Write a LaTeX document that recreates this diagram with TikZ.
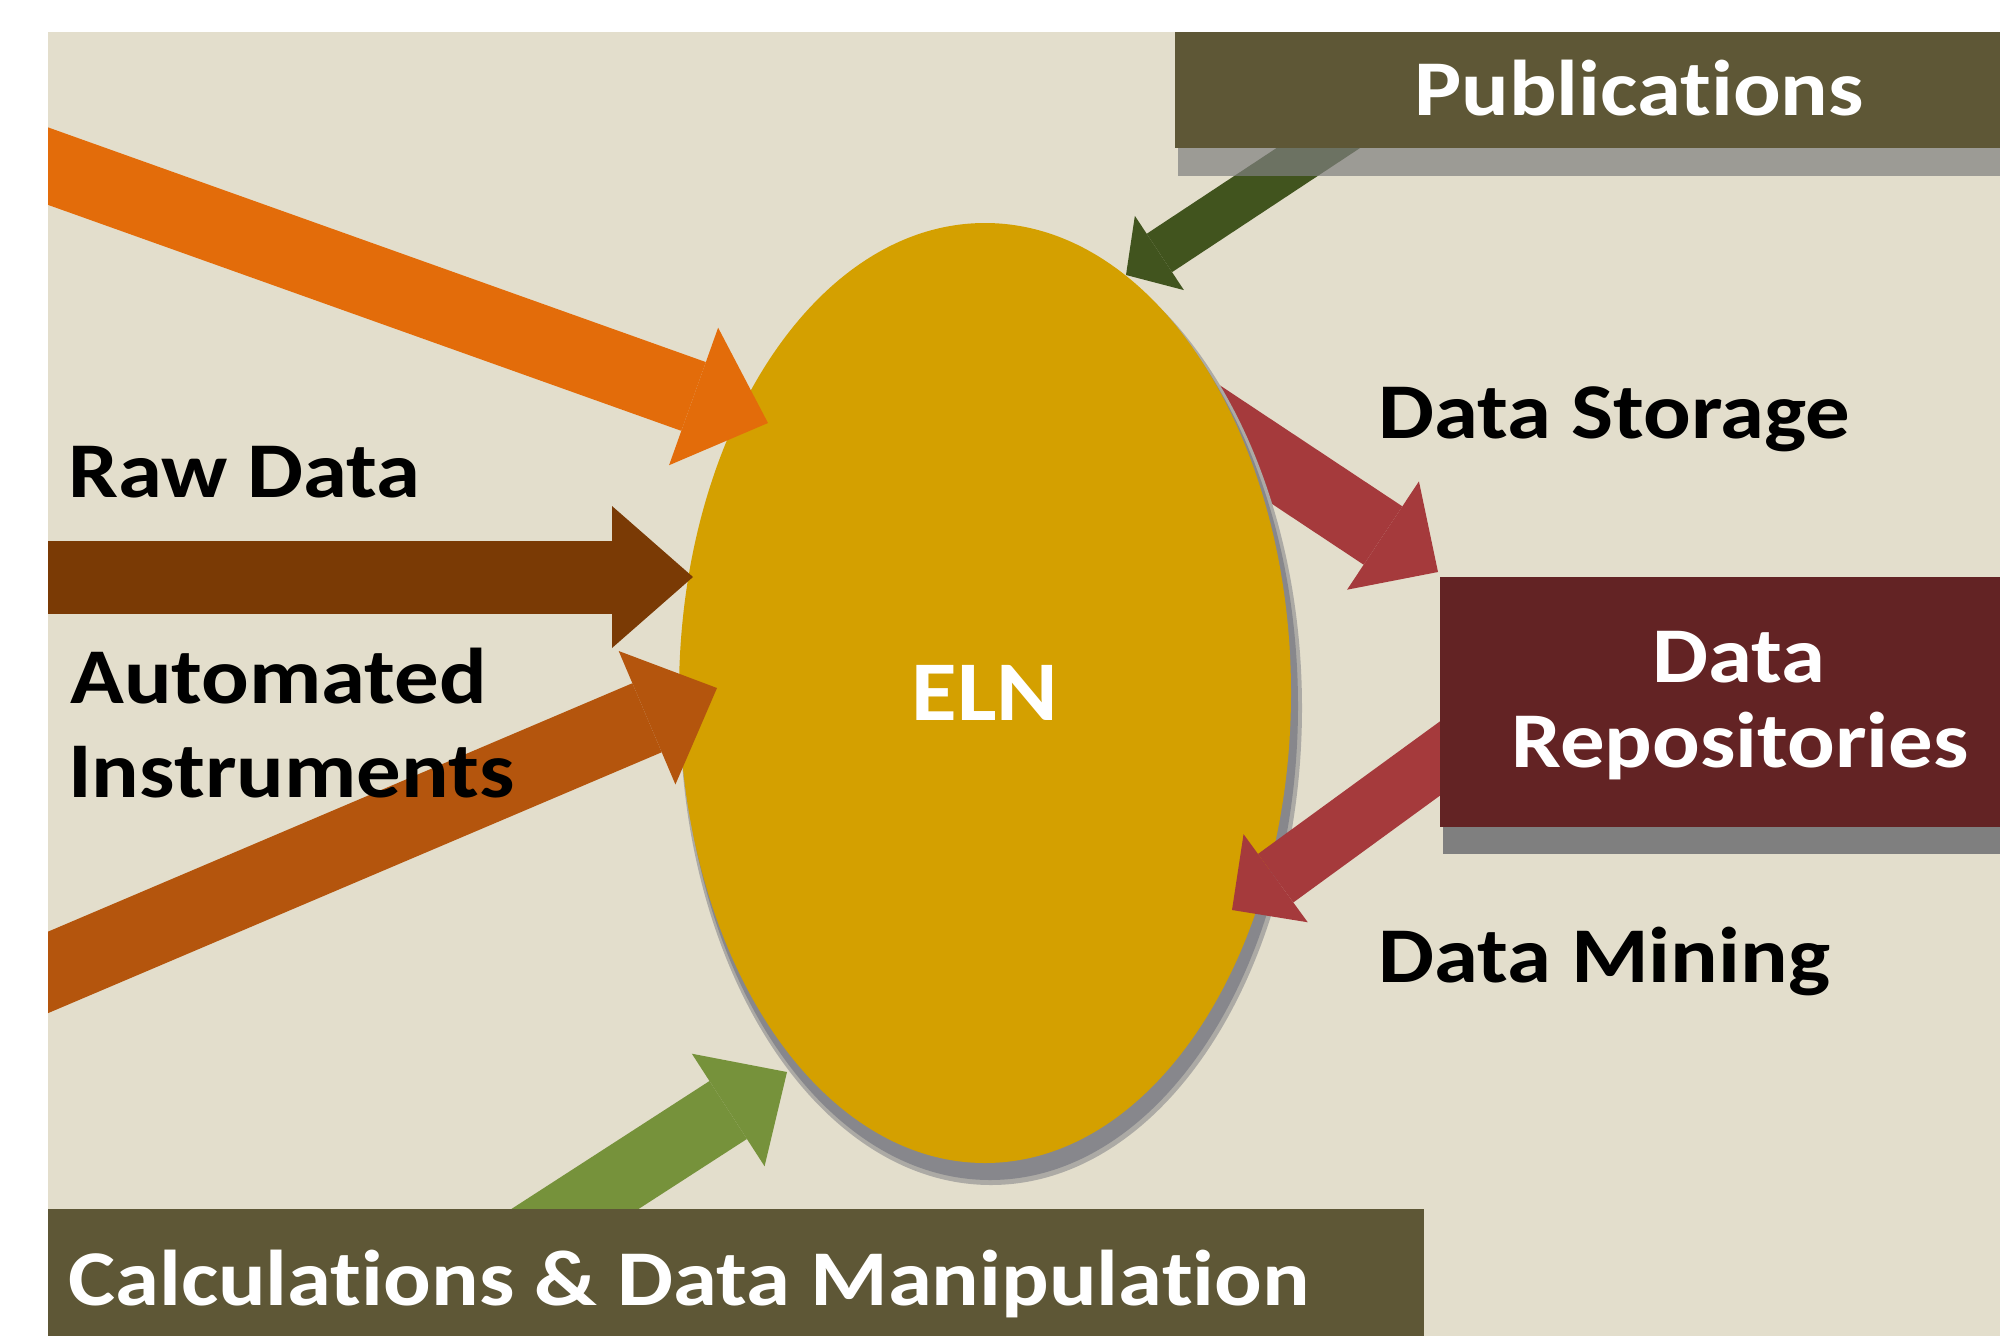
\documentclass[tikz,border=0pt]{standalone}
\usepackage{fontspec}
\setmainfont{Carlito}[Ligatures={NoCommon}]
\usetikzlibrary{arrows.meta,shapes.geometric}
\definecolor{bgC}{RGB}{227,222,204}
\definecolor{oliveC}{RGB}{94,87,54}
\definecolor{goldC}{RGB}{212,160,0}
\definecolor{orangeC}{RGB}{227,108,10}
\definecolor{brownC}{RGB}{122,58,5}
\definecolor{dorangeC}{RGB}{180,85,13}
\definecolor{greenC}{RGB}{118,146,59}
\definecolor{dgreenC}{RGB}{65,84,30}
\definecolor{redC}{RGB}{165,58,60}
\definecolor{maroonC}{RGB}{99,35,36}
\definecolor{shadowC}{RGB}{127,127,127}
\definecolor{eshadowC}{RGB}{135,135,140}
\begin{document}
\begin{tikzpicture}[x=1pt,y=-1pt,
  lbl/.style={font=\fontsize{79}{94}\selectfont\bfseries, inner sep=0pt, xscale=1.125},
  fat/.style n args={4}{draw=#1, line width=#2, -{Triangle[width=#3,length=#4,line width=0pt]}},
  boxnode/.style={rectangle, inner sep=0pt, anchor=north west}
]
\useasboundingbox (0,0) rectangle (2000,1336);
\fill[white] (0,0) rectangle (2000,1336);
\fill[bgC] (48,32) rectangle (2000,1336);

\coordinate (o1) at (0,149);     \coordinate (o2) at (768,423);
\coordinate (b1) at (0,577);     \coordinate (b2) at (693,577);
\coordinate (d1) at (0,992.8);   \coordinate (d2) at (717,688);
\coordinate (g1) at (496,1260);  \coordinate (g2) at (787,1072);
\coordinate (p1) at (1391,100);  \coordinate (p2) at (1126,275);
\coordinate (r1) at (1150,381);  \coordinate (r1t) at (1438,572);
\coordinate (m1) at (1470,736.6); \coordinate (m2) at (1232,910);

\begin{scope}
\clip (48,32) rectangle (2000,1336);
% storage arrow (behind the ellipse)
\draw[fat={redC}{70pt}{130pt}{66pt}] (r1) -- (r1t);
% ellipse and its shadow
\fill[eshadowC!60!bgC] (991,708) ellipse [x radius=311pt, y radius=477pt];
\fill[eshadowC] (990,706) ellipse [x radius=308pt, y radius=474pt];
\node[ellipse, fill=goldC, minimum width=612pt, minimum height=940pt, inner sep=0pt,
      text=white, font=\fontsize{85}{100}\selectfont\bfseries] (eln) at (985,693) {\scalebox{1.1}[1]{ELN}};
% incoming arrows
\draw[fat={orangeC}{73pt}{146pt}{79pt}] (o1) -- (o2);
\draw[fat={brownC}{73pt}{142pt}{81pt}] (b1) -- (b2);
\draw[fat={dorangeC}{75pt}{145pt}{76pt}] (d1) -- (d2);
\draw[fat={greenC}{69pt}{134pt}{70pt}] (g1) -- (g2);
\draw[fat={redC}{60pt}{109pt}{54pt}] (m1) -- (m2);
\draw[fat={dgreenC}{46pt}{89pt}{40pt}] (p1) -- (p2);
% boxes
\fill[shadowC, opacity=0.7] (1178,60) rectangle (2000,176);
\node[boxnode, fill=oliveC, minimum width=825pt, minimum height=116pt] (pub) at (1175,32) {};
\fill[shadowC] (1443,600) rectangle (2000,854);
\node[boxnode, fill=maroonC, minimum width=560pt, minimum height=250pt] (repos) at (1440,577) {};
\node[boxnode, fill=oliveC, minimum width=1376pt, minimum height=127pt] (calc) at (48,1209) {};
\end{scope}

% texts
\node[lbl, anchor=base west] (raw) at (68,497) {Raw Data};
\node[lbl, anchor=base west] (auto1) at (70,703) {Automated};
\node[lbl, anchor=base west] (auto2) at (68,797) {Instruments};
\node[lbl, anchor=base west] (storage) at (1378,438) {Data Storage};
\node[lbl, anchor=base west] (mining) at (1378,982) {Data Mining};
\node[lbl, anchor=base, text=white] (pubtxt) at (1639,115) {Publications};
\node[lbl, anchor=base, text=white] (rep1) at (1739,682) {Data};
\node[lbl, anchor=base, text=white] (rep2) at (1740,767) {Repositories};
\node[lbl, anchor=base west, text=white] (calctxt) at (68,1305) {Calculations \& Data Manipulation};
\end{tikzpicture}
\end{document}
